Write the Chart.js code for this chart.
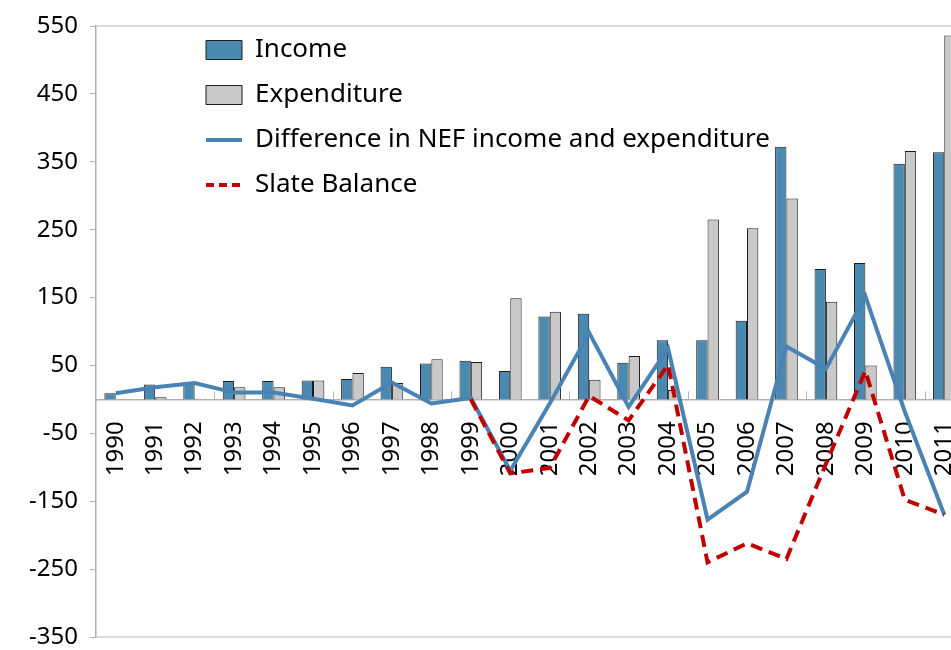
<!DOCTYPE html>
<html>
<head>
<meta charset="utf-8">
<script src="https://cdn.jsdelivr.net/npm/chart.js@4.4.1/dist/chart.umd.min.js"></script>
<style>
    html, body { margin: 0; padding: 0; background: #fff; overflow: hidden; }
</style>
</head>
<body>
<canvas id="wykres" width="975" height="650"></canvas>
<script>
const lata = ["1990", "1991", "1992", "1993", "1994", "1995", "1996", "1997", "1998", "1999", "2000",
    "2001", "2002", "2003", "2004", "2005", "2006", "2007", "2008", "2009", "2010", "2011"];
const dochody = [9, 22, 25, 27, 27, 28, 30, 48, 53, 57, 42, 122, 126, 54, 87, 87, 116, 372, 192, 201, 347, 364];
const wydatki = [0, 3, 1, 18, 18, 28, 39, 24, 59, 55, 149, 129, 29, 64, 14, 265, 252, 296, 144, 50, 366, 536];
const roznica = [9, 18, 24, 10, 10, 1, -9, 25, -6, 2, -105, -6, 98, -11, 75, -177, -136, 78, 45, 152, -18, -170];
const saldo = [null, null, null, null, null, null, null, null, null, 0, -109, -101, 5, -31, 51, -240, -212, -235, -95, 42, -148, -170];

const czcionka = "'Noto Sans', sans-serif";
Chart.defaults.font.family = czcionka;

// lekki wzor ukosny dla szarych slupkow
function wzor() {
    let c = document.createElement("canvas");
    c.width = 4; c.height = 4;
    let g = c.getContext("2d");
    g.fillStyle = "#cbcbcb";
    g.fillRect(0, 0, 4, 4);
    g.strokeStyle = "#c2c2c2";
    g.lineWidth = 1;
    g.beginPath();
    g.moveTo(0, 4); g.lineTo(4, 0);
    g.stroke();
    return g.createPattern(c, "repeat");
}

// ramka obszaru wykresu + znaczniki osi x co 3 lata
const ramka = {
    id: "ramka",
    beforeDatasetsDraw(chart) {
        const a = chart.chartArea;
        const ctx = chart.ctx;
        ctx.save();
        ctx.strokeStyle = "#cfcfcf";
        ctx.lineWidth = 1.5;
        ctx.beginPath();
        ctx.moveTo(a.left, a.top); ctx.lineTo(a.right, a.top);
        ctx.moveTo(a.left, a.bottom); ctx.lineTo(a.right, a.bottom);
        ctx.stroke();

        const sx = chart.scales.x;
        const y0 = chart.scales.y.getPixelForValue(0);
        ctx.strokeStyle = "#b5b5b5";
        ctx.lineWidth = 1;
        for (let i = 3; i < lata.length; i += 3) {
            const px = Math.round((sx.getPixelForTick(i - 1) + sx.getPixelForTick(i)) / 2) + 0.5;
            ctx.beginPath();
            ctx.moveTo(px, y0);
            ctx.lineTo(px, y0 - 8);
            ctx.stroke();
        }
        ctx.restore();
    }
};

// przesuniecie legendy w gore-lewo obszaru wykresu
const legendaPoz = {
    id: "legendaPoz",
    beforeDraw(chart) {
        const l = chart.legend;
        const a = chart.chartArea;
        l.left = a.left + 91;
        l.top = a.top - 8;
        l.right = l.left + 760;
        l.bottom = l.top + 300;
    }
};

let ctx = document.getElementById("wykres").getContext("2d");
let wykres = new Chart(ctx, {
    data: {
        labels: lata,
        datasets: [
            {
                type: "bar",
                label: "Income",
                data: dochody,
                backgroundColor: "#4a8ab0",
                borderColor: "#1c1c1c",
                borderWidth: 1,
                categoryPercentage: 0.575,
                barPercentage: 1,
                order: 2
            },
            {
                type: "bar",
                label: "Expenditure",
                data: wydatki,
                backgroundColor: wzor(),
                borderColor: "#1c1c1c",
                borderWidth: 1,
                categoryPercentage: 0.575,
                barPercentage: 1,
                order: 2
            },
            {
                type: "line",
                label: "Difference in NEF income and expenditure",
                data: roznica,
                borderColor: "#4a82b4",
                backgroundColor: "#4a82b4",
                borderWidth: 4,
                pointRadius: 0,
                tension: 0,
                order: 1
            },
            {
                type: "line",
                label: "Slate Balance",
                data: saldo,
                borderColor: "#c00000",
                backgroundColor: "#c00000",
                borderWidth: 4,
                borderDash: [12, 7],
                pointRadius: 0,
                tension: 0,
                order: 0
            }
        ]
    },
    options: {
        responsive: false,
        animation: false,
        layout: { padding: { top: 26, bottom: 13, left: 0, right: 11 } },
        scales: {
            x: {
                position: { y: 0 },
                offset: true,
                grid: { drawOnChartArea: false, drawTicks: false },
                border: { color: "#b0b0b0", width: 1.5 },
                ticks: {
                    color: "#000", autoSkip: false, minRotation: 90, maxRotation: 90, padding: 22,
                    font: { size: 24 }
                },
                afterFit: function (s) { s.paddingLeft = 0; s.paddingRight = 0; }
            },
            y: {
                min: -350,
                max: 550,
                grid: { drawOnChartArea: false, drawTicks: true, tickLength: 6, tickColor: "#b0b0b0" },
                border: { color: "#b0b0b0", width: 1.5 },
                ticks: { stepSize: 100, color: "#000", padding: 12, font: { size: 24 } },
                afterFit: function (s) { s.width = 96; s.paddingTop = 0; s.paddingBottom = 0; }
            }
        },
        plugins: {
            tooltip: { enabled: false },
            legend: {
                position: "chartArea",
                align: "start",
                labels: {
                    color: "#000",
                    font: { size: 26, lineHeight: 1.2 },
                    usePointStyle: true,
                    pointStyleWidth: 36,
                    boxHeight: 19,
                    padding: 19,
                    sort: function (a, b) { return a.datasetIndex - b.datasetIndex; },
                    generateLabels: function (chart) {
                        let items = Chart.defaults.plugins.legend.labels.generateLabels(chart);
                        items.forEach(function (it) {
                            const ds = chart.data.datasets[it.datasetIndex];
                            it.pointStyle = ds.type === "line" ? "line" : "rect";
                            if (ds.borderDash) it.lineDash = [8, 5];
                        });
                        return items;
                    }
                }
            }
        }
    },
    plugins: [ramka, legendaPoz]
});
</script>
</body>
</html>
